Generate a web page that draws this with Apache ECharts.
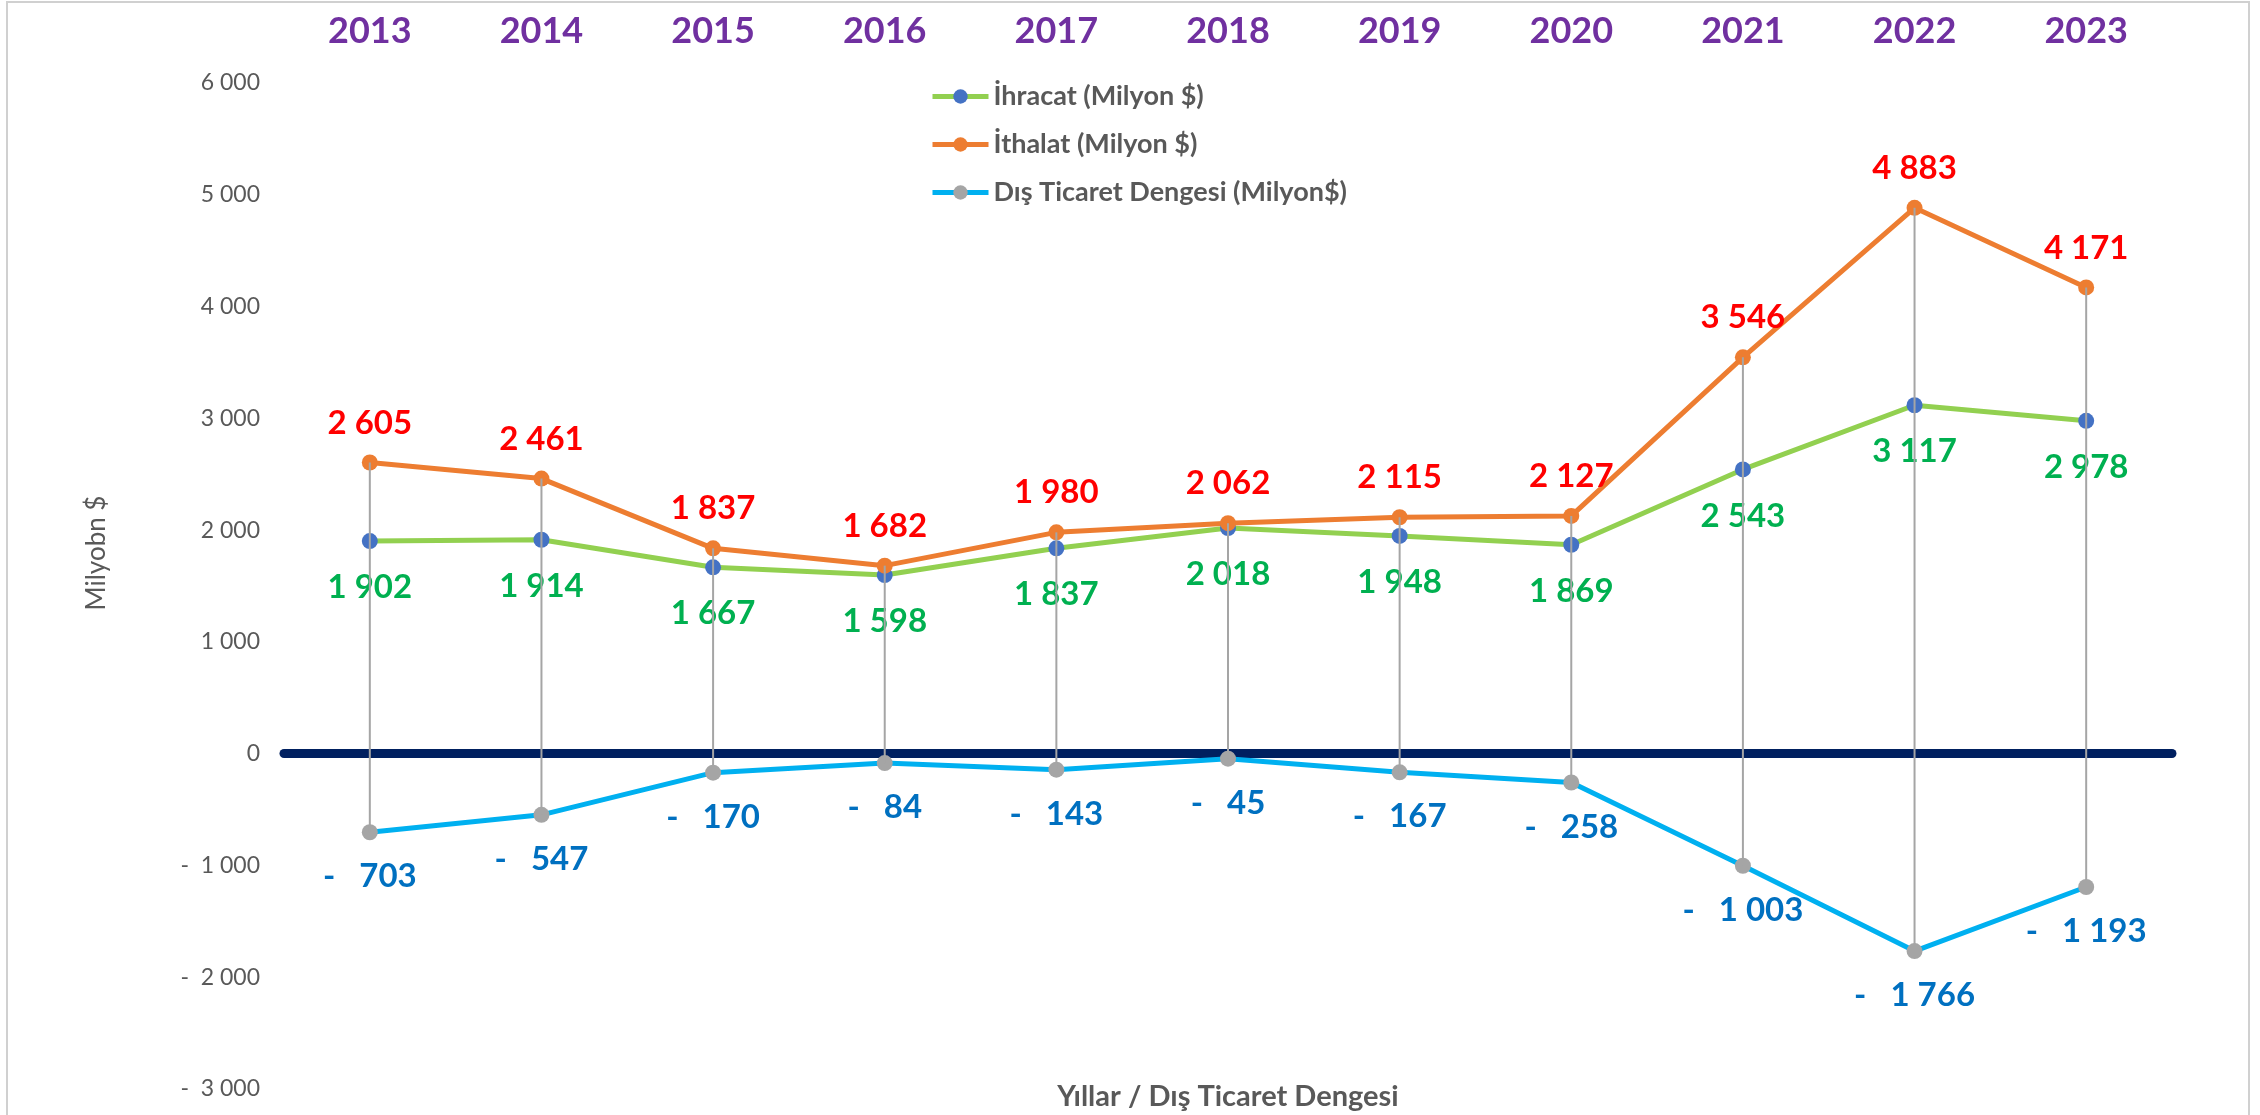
<!DOCTYPE html>
<html>
<head>
<meta charset="utf-8">
<script src="https://cdn.jsdelivr.net/npm/echarts@6/dist/echarts.min.js"></script>
<style>
  html, body { margin: 0; padding: 0; background: #fff; }
  #chart { width: 2260px; height: 1115px; }
</style>
</head>
<body>
<div id="chart"></div>
<script>
/* Dış ticaret grafiği: ihracat / ithalat / denge */
const years = ["2013", "2014", "2015", "2016", "2017", "2018", "2019", "2020", "2021", "2022", "2023"];
const ihracat = [1902, 1914, 1667, 1598, 1837, 2018, 1948, 1869, 2543, 3117, 2978];
const ithalat = [2605, 2461, 1837, 1682, 1980, 2062, 2115, 2127, 3546, 4883, 4171];
const denge = [-703, -547, -170, -84, -143, -45, -167, -258, -1003, -1766, -1193];
const yTicks = { min: -3000, max: 6000, step: 1000 };

const FONT = "Lato";
const GRAY_TEXT = "#595959";

// binlik ayırıcı boşluk: 4883 -> "4 883"
function grp(v) {
  return String(Math.abs(v)).replace(/\B(?=(\d{3})+(?!\d))/g, " ");
}

function axisFmt(v) {
  if (v === 0) return "0";
  return v < 0 ? "-  " + grp(v) : grp(v);
}

// dikey çizgiler (en yüksek - en düşük)
const dropData = years.map((y, i) => [
  i,
  Math.max(ihracat[i], ithalat[i], denge[i]),
  Math.min(ihracat[i], ithalat[i], denge[i])
]);

const chart = echarts.init(document.getElementById("chart"));

chart.setOption({
  animation: false,
  textStyle: { fontFamily: FONT },
  grid: { left: 284, right: 88, top: 83, bottom: 26 },
  graphic: [
    {
      type: "rect",
      shape: { x: 7, y: 2, width: 2242, height: 1200 },
      style: { fill: "none", stroke: "#D0D0D0", lineWidth: 2 },
      silent: true
    },
    {
      type: "text",
      x: 97,
      y: 553,
      rotation: Math.PI / 2,
      style: {
        text: "Milyobn $",
        font: "26px " + FONT,
        fill: GRAY_TEXT,
        textAlign: "center",
        textVerticalAlign: "middle"
      }
    },
    {
      type: "text",
      x: 1228,
      y: 1097,
      style: {
        text: "Yıllar / Dış Ticaret Dengesi",
        font: "bold 29px " + FONT,
        fill: GRAY_TEXT,
        textAlign: "center",
        textVerticalAlign: "middle"
      }
    }
  ],
  legend: {
    orient: "vertical",
    left: 925,
    top: 78,
    itemWidth: 56,
    itemHeight: 18,
    itemGap: 21,
    lineStyle: { width: 5 },
    data: ["İhracat (Milyon $)", "İthalat (Milyon $)", "Dış Ticaret Dengesi (Milyon$)"],
    textStyle: { fontFamily: FONT, fontSize: 27, fontWeight: "bold", color: GRAY_TEXT }
  },
  xAxis: [
    {
      type: "category",
      data: years,
      position: "top",
      axisLine: { show: false, onZero: false },
      axisTick: { show: false },
      axisLabel: {
        margin: 34,
        fontFamily: FONT,
        fontSize: 36,
        fontWeight: "bold",
        color: "#7030A0"
      }
    },
    {
      type: "category",
      data: years,
      position: "bottom",
      axisLine: { show: true, onZero: true, lineStyle: { color: "#002060", width: 9 } },
      axisTick: { show: false },
      axisLabel: { show: false }
    }
  ],
  yAxis: {
    type: "value",
    min: yTicks.min,
    max: yTicks.max,
    interval: yTicks.step,
    axisLine: { show: false },
    axisTick: { show: false },
    splitLine: { show: false },
    axisLabel: {
      margin: 24,
      fontFamily: FONT,
      fontSize: 23,
      color: GRAY_TEXT,
      formatter: axisFmt
    }
  },
  series: [
    {
      name: "İhracat (Milyon $)",
      type: "line",
      data: ihracat,
      symbol: "circle",
      symbolSize: 16,
      z: 2,
      lineStyle: { color: "#92D050", width: 5 },
      itemStyle: { color: "#4472C4" },
      label: {
        show: true,
        position: "bottom",
        distance: 22,
        fontFamily: FONT,
        fontSize: 33,
        fontWeight: "bold",
        color: "#00B050",
        formatter: (p) => grp(p.value)
      }
    },
    {
      name: "İthalat (Milyon $)",
      type: "line",
      data: ithalat,
      symbol: "circle",
      symbolSize: 16,
      z: 2,
      lineStyle: { color: "#ED7D31", width: 5 },
      itemStyle: { color: "#ED7D31" },
      label: {
        show: true,
        position: "top",
        distance: 15,
        fontFamily: FONT,
        fontSize: 33,
        fontWeight: "bold",
        color: "#FF0000",
        formatter: (p) => grp(p.value)
      }
    },
    {
      name: "Dış Ticaret Dengesi (Milyon$)",
      type: "line",
      data: denge,
      symbol: "circle",
      symbolSize: 16,
      z: 2,
      lineStyle: { color: "#00B0F0", width: 5 },
      itemStyle: { color: "#A5A5A5" },
      label: {
        show: true,
        position: "bottom",
        distance: 20,
        fontFamily: FONT,
        fontSize: 33,
        fontWeight: "bold",
        color: "#0070C0",
        formatter: (p) => "-   " + grp(p.value)
      }
    },
    {
      type: "custom",
      name: "drop",
      z: 3,
      silent: true,
      data: dropData,
      encode: { x: 0, y: [1, 2] },
      renderItem: function (params, api) {
        const a = api.coord([api.value(0), api.value(1)]);
        const b = api.coord([api.value(0), api.value(2)]);
        return {
          type: "line",
          shape: { x1: a[0], y1: a[1], x2: b[0], y2: b[1] },
          style: { stroke: "#A5A5A5", lineWidth: 2 }
        };
      }
    }
  ]
});

window.addEventListener("resize", () => chart.resize());
</script>
</body>
</html>
